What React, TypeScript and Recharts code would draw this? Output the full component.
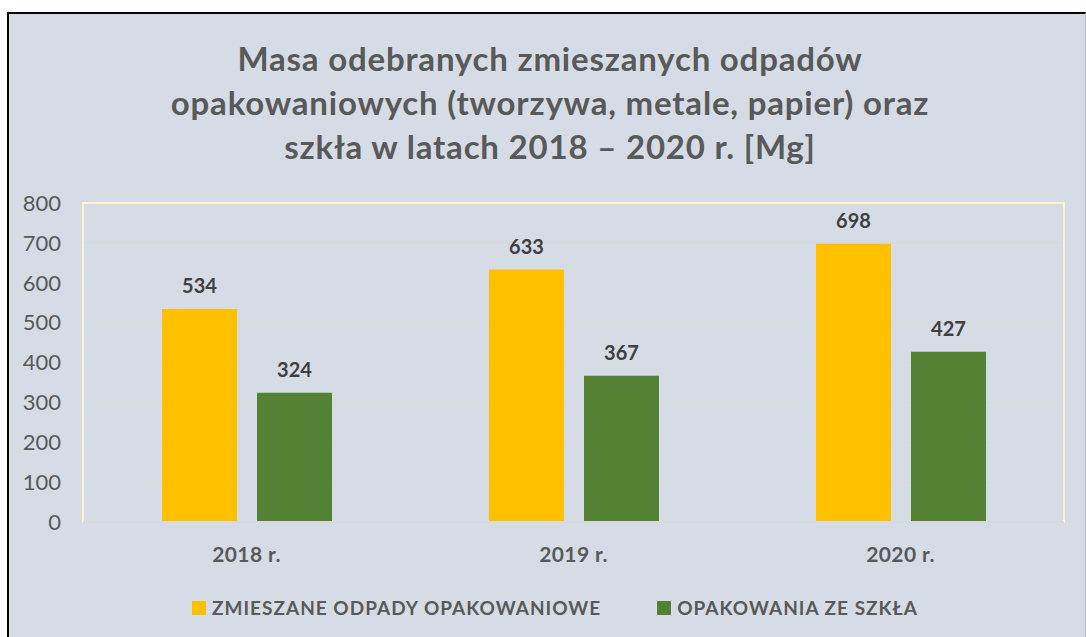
import React from "react";
import {
  BarChart,
  Bar,
  XAxis,
  YAxis,
  CartesianGrid,
  LabelList,
  Legend,
  ReferenceArea,
} from "recharts";

const years = ["2018 r.", "2019 r.", "2020 r."];
const mixedWaste = [534, 633, 698];
const glassWaste = [324, 367, 427];
const yTicks = [0, 100, 200, 300, 400, 500, 600, 700, 800];

const seriesNames = {
  mixed: "ZMIESZANE ODPADY OPAKOWANIOWE",
  glass: "OPAKOWANIA ZE SZKŁA",
};
const seriesOrder = ["mixed", "glass"];

const data = years.map((year, i) => ({
  year,
  mixed: mixedWaste[i],
  glass: glassWaste[i],
}));

const font = "Lato, 'Open Sans', sans-serif";

function LegendBox(props: any) {
  const items = [...(props.payload || [])].sort(
    (a: any, b: any) =>
      seriesOrder.indexOf(a.dataKey) - seriesOrder.indexOf(b.dataKey)
  );
  return (
    <div
      style={{
        display: "flex",
        justifyContent: "center",
        alignItems: "center",
        paddingTop: 24,
        paddingLeft: 46,
        fontFamily: font,
        fontWeight: 700,
        fontSize: 19,
        letterSpacing: 1.0,
        color: "#595959",
      }}
    >
      {items.map((item: any) => (
        <div
          key={item.value}
          style={{ display: "flex", alignItems: "center", margin: "0 28px" }}
        >
          <span
            style={{
              width: 14,
              height: 14,
              background: item.color,
              marginRight: 6,
              display: "inline-block",
            }}
          />
          <span>{item.value}</span>
        </div>
      ))}
    </div>
  );
}

export default function App() {
  return (
    <div
      style={{
        position: "absolute",
        left: 0,
        top: 0,
        width: 1086,
        height: 637,
        overflow: "hidden",
        background: "#ffffff",
      }}
    >
      <div
        style={{
          position: "absolute",
          left: 7,
          top: 12,
          width: 1076,
          height: 640,
          borderTop: "2px solid #000",
          borderLeft: "2px solid #000",
          borderRight: "1px solid #bfbfbf",
          background: "#d6dce5",
        }}
      />
      <div
        style={{
          position: "absolute",
          left: 0,
          top: 36,
          width: 1100,
          textAlign: "center",
          fontFamily: font,
          fontWeight: 700,
          fontSize: 33,
          letterSpacing: 0.8,
          lineHeight: "44px",
          color: "#595959",
        }}
      >
        Masa odebranych zmieszanych odpadów
        <br />
        opakowaniowych (tworzywa, metale, papier) oraz
        <br />
        szkła w latach 2018 – 2020 r. [Mg]
      </div>
      <div style={{ position: "absolute", left: 0, top: 0 }}>
        <BarChart
          width={1086}
          height={637}
          data={data}
          margin={{ top: 203, right: 22, left: 0, bottom: 0 }}
          barCategoryGap={79}
          barGap={20}
        >
          <CartesianGrid vertical={false} stroke="#d9d9d9" strokeWidth={1.5} />
          <ReferenceArea
            y1={0}
            y2={800}
            fill="none"
            stroke="#fff2cc"
            strokeWidth={2}
          />
          <XAxis
            dataKey="year"
            tickLine={false}
            tickSize={0}
            tickMargin={25}
            height={50}
            axisLine={{ stroke: "#d9d9d9", strokeWidth: 2 }}
            tick={{
              fill: "#595959",
              fontSize: 21,
              fontWeight: 700,
              fontFamily: font,
              letterSpacing: 0.4,
            }}
          />
          <YAxis
            width={83}
            domain={[0, 800]}
            ticks={yTicks}
            axisLine={false}
            tickLine={false}
            tickSize={0}
            tickMargin={22}
            tick={{ fill: "#595959", fontSize: 22, fontFamily: font }}
          />
          <Legend
            verticalAlign="bottom"
            height={65}
            content={<LegendBox />}
          />
          <Bar
            dataKey="mixed"
            name={seriesNames.mixed}
            fill="#ffc000"
            isAnimationActive={false}
          >
            <LabelList
              dataKey="mixed"
              position="top"
              offset={16}
              fill="#404040"
              fontSize={20}
              fontWeight={700}
              fontFamily={font}
            />
          </Bar>
          <Bar
            dataKey="glass"
            name={seriesNames.glass}
            fill="#548235"
            isAnimationActive={false}
          >
            <LabelList
              dataKey="glass"
              position="top"
              offset={16}
              fill="#404040"
              fontSize={20}
              fontWeight={700}
              fontFamily={font}
            />
          </Bar>
        </BarChart>
      </div>
    </div>
  );
}
